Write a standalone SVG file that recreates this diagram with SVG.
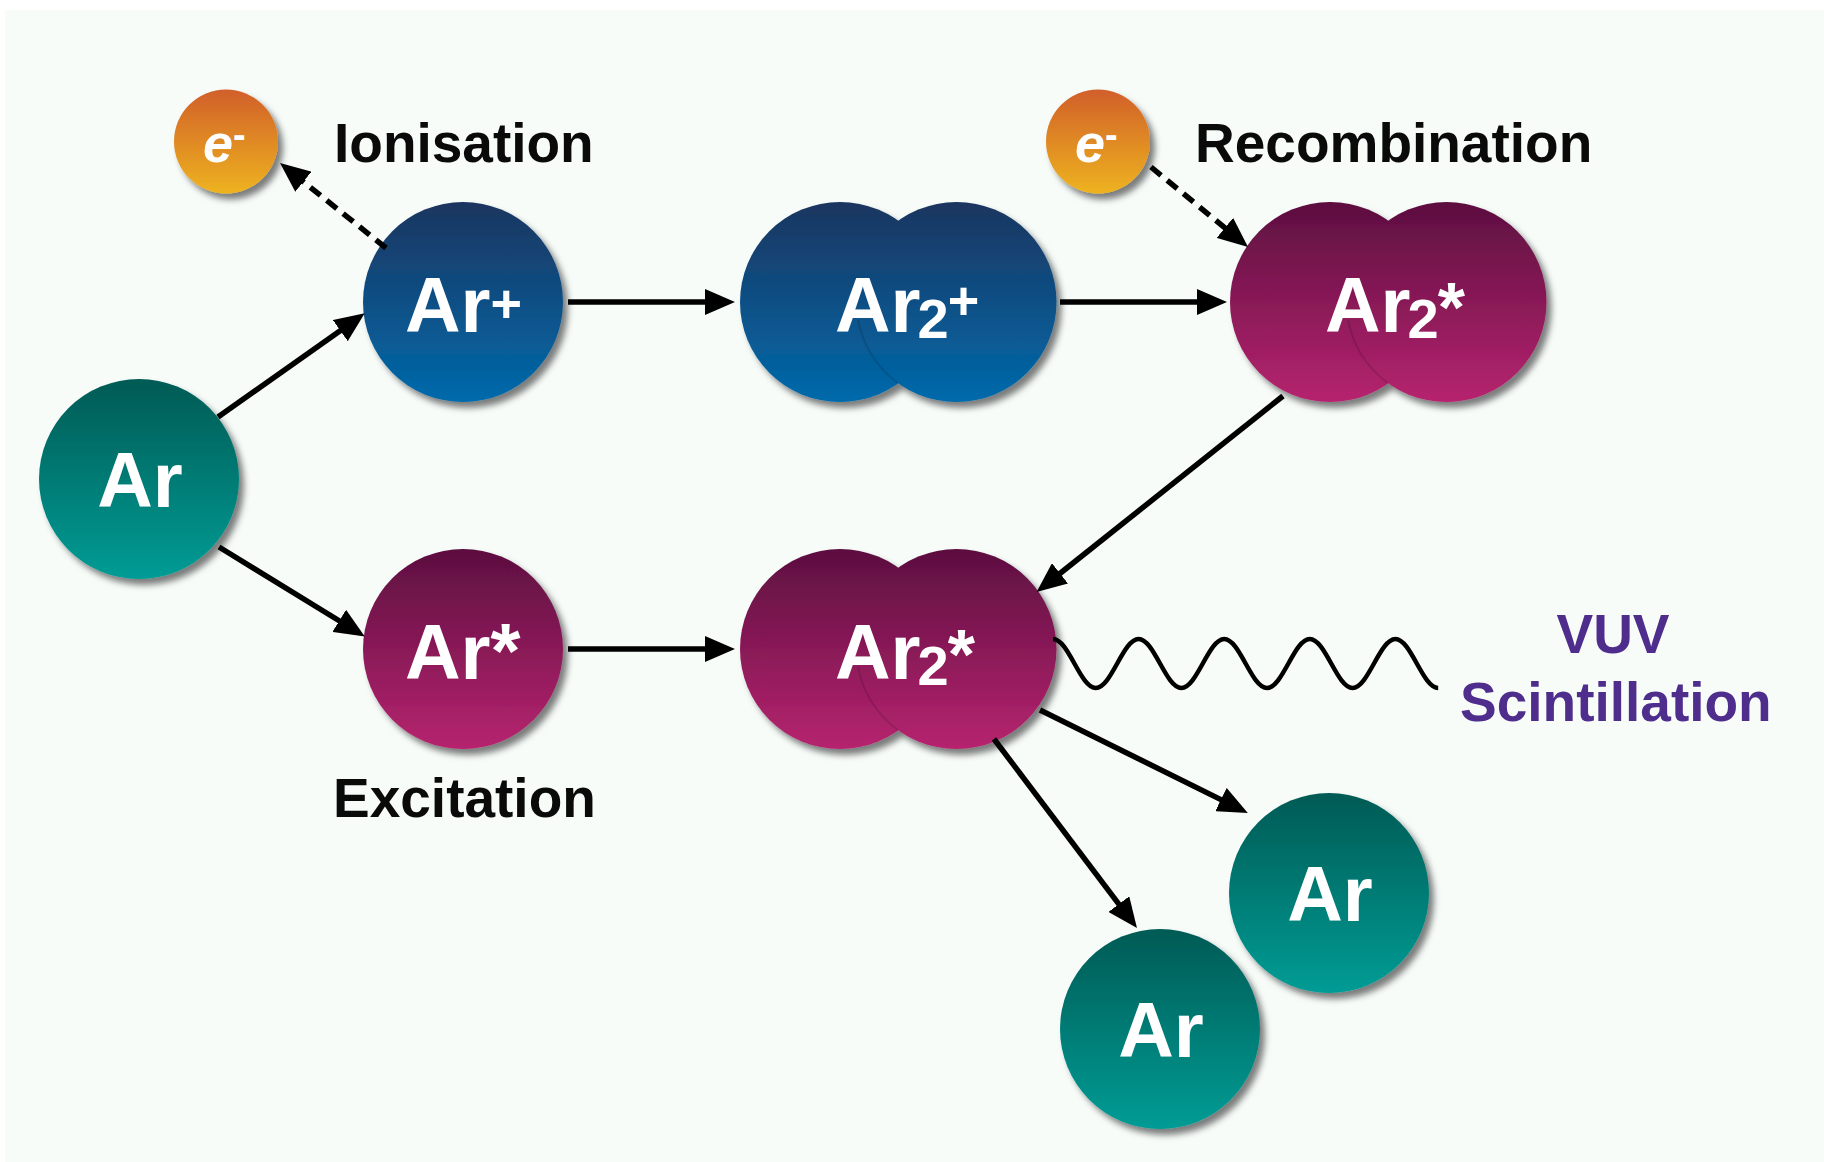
<svg xmlns="http://www.w3.org/2000/svg" width="1824" height="1162" viewBox="0 0 1824 1162">
<defs>
<style>
.nt{font-family:"Liberation Sans",Arial,Helvetica,sans-serif;font-weight:bold;fill:#ffffff;font-size:77px}
.lbl{font-family:"Liberation Sans",Arial,Helvetica,sans-serif;font-weight:bold;fill:#0a0a0a;font-size:55px}
.vuv{font-family:"Liberation Sans",Arial,Helvetica,sans-serif;font-weight:bold;fill:#4f2d8c;font-size:55px}
.et{font-family:"Liberation Sans",Arial,Helvetica,sans-serif;font-weight:bold;font-style:italic;fill:#ffffff;font-size:54px}
.arr{stroke:#000;stroke-width:5.5;fill:none;marker-end:url(#ah)}
.dash{stroke-dasharray:13 8}
.seam{fill:none;stroke:#000;stroke-opacity:0.13;stroke-width:2}
</style>
<linearGradient id="gTeal" x1="0" y1="0" x2="0" y2="1"><stop offset="0" stop-color="#005a54"/><stop offset="1" stop-color="#009c95"/></linearGradient>
<linearGradient id="gBlue" x1="0" y1="0" x2="0" y2="1"><stop offset="0" stop-color="#1b355f"/><stop offset="1" stop-color="#006aab"/></linearGradient>
<linearGradient id="gMag" x1="0" y1="0" x2="0" y2="1"><stop offset="0" stop-color="#5c0f40"/><stop offset="1" stop-color="#b6246f"/></linearGradient>
<linearGradient id="gOr" x1="0" y1="0" x2="0" y2="1"><stop offset="0" stop-color="#d15f2a"/><stop offset="1" stop-color="#eeb31f"/></linearGradient>
<filter id="sh" x="-20%" y="-20%" width="150%" height="150%"><feDropShadow dx="5" dy="6" stdDeviation="3" flood-color="#000" flood-opacity="0.5"/></filter>
<marker id="ah" markerUnits="userSpaceOnUse" markerWidth="30" markerHeight="26" refX="9" refY="13" orient="auto"><path d="M0,0 L30,13 L0,26 z" fill="#000"/></marker>
</defs>
<rect x="0" y="0" width="1824" height="1162" fill="#ffffff"/>
<rect x="5" y="10" width="1819" height="1152" fill="#f7fcf9"/>

<g id="n-ar">
<circle cx="139" cy="479" r="100" fill="url(#gTeal)" filter="url(#sh)"/>
<text class="nt" x="140" y="507" text-anchor="middle">Ar</text>
</g>
<g id="n-arplus">
<circle cx="463" cy="302" r="100" fill="url(#gBlue)" filter="url(#sh)"/>
<text class="nt" x="405" y="332">Ar<tspan font-size="54" dy="-10">+</tspan></text>
</g>
<g id="n-ar2plus">
<g filter="url(#sh)">
<circle cx="840" cy="302" r="100" fill="url(#gBlue)"/>
<circle cx="956.5" cy="302" r="100" fill="url(#gBlue)"/>
</g>
<path class="seam" d="M858.1,320 A100,100 0 0 0 898.2,383.3"/>
<text class="nt" x="835" y="332">Ar<tspan font-size="56" dx="-3" dy="6">2</tspan><tspan font-size="54" dx="-1" dy="-19.5">+</tspan></text>
</g>
<g id="n-ar2star-top">
<g filter="url(#sh)">
<circle cx="1330" cy="302" r="100" fill="url(#gMag)"/>
<circle cx="1446.5" cy="302" r="100" fill="url(#gMag)"/>
</g>
<path class="seam" d="M1348.1,320 A100,100 0 0 0 1388.2,383.3"/>
<text class="nt" x="1325" y="332">Ar<tspan font-size="56" dx="-3" dy="6">2</tspan><tspan font-size="70" dx="-1" dy="-6">*</tspan></text>
</g>
<g id="n-arstar">
<circle cx="463" cy="649" r="100" fill="url(#gMag)" filter="url(#sh)"/>
<text class="nt" x="405" y="679">Ar<tspan font-size="77" dy="-1">*</tspan></text>
</g>
<g id="n-ar2star">
<g filter="url(#sh)">
<circle cx="840" cy="649" r="100" fill="url(#gMag)"/>
<circle cx="956.5" cy="649" r="100" fill="url(#gMag)"/>
</g>
<path class="seam" d="M858.1,667 A100,100 0 0 0 898.2,730.3"/>
<text class="nt" x="835" y="679">Ar<tspan font-size="56" dx="-3" dy="6">2</tspan><tspan font-size="70" dx="-1" dy="-6">*</tspan></text>
</g>
<g id="n-ar-out1">
<circle cx="1329" cy="893" r="100" fill="url(#gTeal)" filter="url(#sh)"/>
<text class="nt" x="1330" y="921" text-anchor="middle">Ar</text>
</g>
<g id="n-ar-out2">
<circle cx="1160" cy="1029" r="100" fill="url(#gTeal)" filter="url(#sh)"/>
<text class="nt" x="1161" y="1057" text-anchor="middle">Ar</text>
</g>
<g id="n-e1">
<circle cx="226" cy="141.5" r="52" fill="url(#gOr)" filter="url(#sh)"/>
<text class="et" x="203" y="162">e<tspan font-size="38" dy="-14" font-style="normal">-</tspan></text>
</g>
<g id="n-e2">
<circle cx="1098" cy="141.5" r="52" fill="url(#gOr)" filter="url(#sh)"/>
<text class="et" x="1075" y="162">e<tspan font-size="38" dy="-14" font-style="normal">-</tspan></text>
</g>

<g id="labels">
<text class="lbl" x="334" y="162">Ionisation</text>
<text class="lbl" x="1195" y="162">Recombination</text>
<text class="lbl" x="333" y="817">Excitation</text>
<text class="vuv" x="1613" y="653" text-anchor="middle">VUV</text>
<text class="vuv" x="1460" y="721">Scintillation</text>
</g>

<g id="connectors">
<line class="arr" x1="218" y1="417" x2="347.6" y2="325.4"/>
<line class="arr" x1="219" y1="547" x2="346.9" y2="625.5"/>
<line class="arr" x1="568" y1="302" x2="714" y2="302"/>
<line class="arr" x1="1060" y1="302" x2="1206" y2="302"/>
<line class="arr" x1="568" y1="649" x2="714" y2="649"/>
<line class="arr" x1="1283" y1="396" x2="1053" y2="579"/>
<line class="arr" x1="1040" y1="710" x2="1229" y2="803.6"/>
<line class="arr" x1="994" y1="739" x2="1124.3" y2="911.3"/>
<line class="arr dash" x1="386" y1="248" x2="296.4" y2="176.1"/>
<line class="arr dash" x1="1151" y1="167" x2="1231.8" y2="233.6"/>
<path id="vuv-wave" d="M1053,639 C1068.6,639 1080.2,688 1095.8,688 S1123,639 1138.6,639 S1165.8,688 1181.4,688 S1208.6,639 1224.2,639 S1251.4,688 1267,688 S1294.2,639 1309.8,639 S1337,688 1352.6,688 S1379.8,639 1395.4,639 S1422.6,688 1438.2,688" fill="none" stroke="#000" stroke-width="4.5"/>
</g>
</svg>
